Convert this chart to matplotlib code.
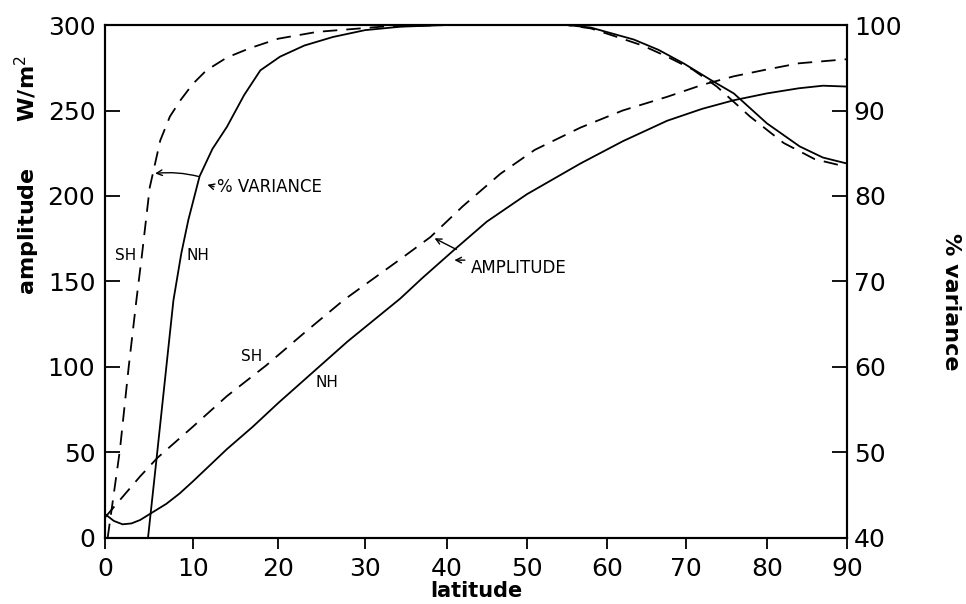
import numpy as np
import matplotlib.pyplot as plt

plt.rcParams['font.family'] = ['DejaVu Sans']

# =========================================================
# data
# =========================================================
# amplitude (W/m^2), northern hemisphere (solid)
lat_amp_nh = [0, 1, 2, 3, 4, 5.1, 7, 8.5, 10, 14, 17, 20, 24, 28, 34.3, 37, 40.8,
              45, 50, 56.7, 62, 67.6, 72, 75.9, 80, 84, 87, 90]
amp_nh = [14, 10, 8, 8.5, 10.5, 14, 20, 26, 33, 52, 65, 79, 97, 115, 140, 152, 168,
          185, 201, 219, 232, 244, 251, 256, 260, 263, 264.5, 264]

# amplitude (W/m^2), southern hemisphere (dashed)
lat_amp_sh = [0, 2, 4, 6, 10, 14, 18.6, 23, 27.5, 34.3, 38, 42, 46.7, 51, 56.7,
              62, 67.6, 72, 75.9, 80, 84, 90]
amp_sh = [12, 24, 36, 47, 65, 83, 101, 120, 139, 163, 176, 194, 213, 227, 240,
          250, 258, 265, 270, 274, 277.6, 280]

# % variance, northern hemisphere (solid)
lat_var_nh = [4.9, 5.9, 7.8, 8.7, 9.5, 10.8, 12.3, 14, 16, 17.9, 20.2, 23, 26.3,
              30, 34.3, 40, 55, 58, 63.4, 66.5, 69.7, 73, 75.9, 80, 84.1, 87, 90]
var_nh = [40, 49.5, 67.8, 73.3, 77.2, 82.3, 85.5, 88.1, 91.8, 94.7, 96.3, 97.6, 98.6,
          99.4, 99.8, 100, 100, 99.7, 98.3, 97.1, 95.5, 93.6, 92, 88.5, 85.8, 84.5, 83.8]

# % variance, southern hemisphere (dashed)
lat_var_sh = [0.3, 1.7, 2.7, 3.6, 4.2, 5.1, 6.3, 7.4, 8.6, 10, 11.6, 14, 16.7, 20,
              24.5, 32, 40, 55, 58, 61.3, 64.5, 67.6, 70.8, 73.8, 77.9, 82.1, 86, 90]
var_sh = [40, 50.3, 60, 68, 73, 81, 86.5, 89.3, 91.2, 93.1, 94.7, 96.2, 97.3, 98.4,
          99.2, 99.8, 100, 100, 99.6, 98.6, 97.6, 96.3, 94.8, 92.8, 89.3, 86.2, 84.3, 83.4]

# the scanned latitude axis is not quite even: tick spacing shrinks to the right
lat_ticks = [0, 10, 20, 30, 40, 50, 60, 70, 80, 90]
lat_tick_pos = [0, 87.7, 173.3, 260, 341.7, 421.7, 501.7, 581, 661.7, 741.7]


def lat_fwd(x):
    return np.interp(x, lat_ticks, lat_tick_pos)


def lat_inv(p):
    return np.interp(p, lat_tick_pos, lat_ticks)


# =========================================================
# figure
# =========================================================
fig = plt.figure(figsize=(9.66, 6.04), dpi=100)
ax = fig.add_axes([0.1087, 0.1093, 0.768, 0.8493])
ax.set_xscale('function', functions=(lat_fwd, lat_inv))
ax2 = ax.twinx()

lw = 1.3
dash = (8, 5)

ax.plot(lat_amp_nh, amp_nh, color='black', linewidth=lw)
ax.plot(lat_amp_sh, amp_sh, color='black', linewidth=lw, dashes=dash)
ax2.plot(lat_var_nh, var_nh, color='black', linewidth=lw)
ax2.plot(lat_var_sh, var_sh, color='black', linewidth=lw, dashes=dash)

ax.set_xlim(0, 90)
ax.set_ylim(0, 300)
ax2.set_ylim(40, 100)

ax.set_xticks(lat_ticks)
ax.set_xticklabels([str(t) for t in lat_ticks])
ax.minorticks_off()
ax.set_yticks(range(0, 301, 50))
ax2.set_yticks(range(40, 101, 10))

for a in (ax, ax2):
    for s in a.spines.values():
        s.set_linewidth(1.5)

ax.tick_params(axis='x', direction='out', length=8, width=1.3, labelsize=18, pad=6)
ax.tick_params(axis='y', direction='in', length=11, width=1.3, labelsize=18, pad=7)
ax2.tick_params(axis='y', direction='in', length=11, width=1.3, labelsize=18, pad=5)

ax.set_xlabel('latitude', fontsize=15, fontweight='bold', labelpad=0)

fig.text(0.028, 0.71, 'amplitude      W/m$^2$', rotation=90, fontsize=16,
         fontweight='bold', ha='center', va='center')
fig.text(0.984, 0.5, '% variance', rotation=-90, fontsize=16,
         fontweight='bold', ha='center', va='center')

# =========================================================
# labels on the curves
# =========================================================
ax.text(2.4, 165, 'SH', fontsize=11, ha='center', va='center')
ax.text(10.6, 165, 'NH', fontsize=11, ha='center', va='center')
ax.text(16.9, 106, 'SH', fontsize=11, ha='center', va='center')
ax.text(25.6, 91, 'NH', fontsize=11, ha='center', va='center')

arrow = dict(arrowstyle='->', color='black', lw=1.0)

# % variance annotation (amplitude axis coords)
ax.text(12.8, 205, '% VARIANCE', fontsize=12, ha='left', va='center')
ax.annotate('', xy=(5.4, 213), xytext=(11.0, 211),
            arrowprops=dict(arrowstyle='->', color='black', lw=1.0,
                            connectionstyle='arc3,rad=0.1'))
ax.annotate('', xy=(11.4, 207), xytext=(12.8, 205), arrowprops=arrow)

# amplitude annotation
ax.text(43.0, 158, 'AMPLITUDE', fontsize=12, ha='left', va='center')
ax.annotate('', xy=(38.2, 176), xytext=(41.5, 168), arrowprops=arrow)
ax.annotate('', xy=(40.6, 162.5), xytext=(42.6, 162.5), arrowprops=arrow)

plt.savefig('out.png', dpi=100)
